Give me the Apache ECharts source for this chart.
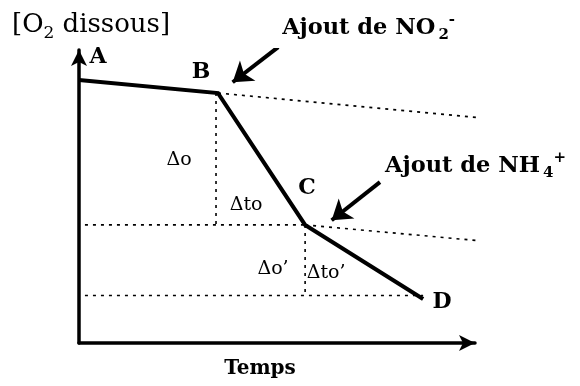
<!DOCTYPE html>
<html>
<head>
<meta charset="utf-8">
<script src="https://cdn.jsdelivr.net/npm/echarts@6/dist/echarts.min.js"></script>
<style>html,body{margin:0;padding:0;background:#fff;}#c{width:580px;height:386px;}</style>
</head>
<body>
<div id="c"></div>
<script>
// Main curve A-B-C-D (time, dissolved O2) in arbitrary units
var pointNames = ['A', 'B', 'C', 'D'];
var timeValues = [0, 35.1, 57.1, 86.9];
var o2Values = [89.8, 85.3, 40.3, 15.0];
// Extrapolated slopes (dashed)
var extB = [[35.1, 85.3], [101.8, 76.8]];
var extC = [[57.1, 40.3], [107.6, 34.1]];
// Reference guides
var hLineC = [[1.5, 40.3], [57.1, 40.3]];
var hLineD = [[1.5, 16.2], [86.9, 16.2]];
var vLineB = [[34.6, 85.3], [34.6, 40.3]];
var vLineC = [[57.1, 40.3], [57.1, 16.2]];
// Callout arrows
var arrowNO2 = [[50.3, 101.0], [38.8, 89.0]];
var arrowNH4 = [[76.0, 54.9], [63.8, 41.9]];
// Text labels
var labelTexts = ['A', 'B', 'C', 'D', '\u0394o', '\u0394to', '\u0394o\u2019', '\u0394to\u2019'];
var labelPos = [[4.8, 97.6], [30.8, 92.5], [57.6, 52.9], [91.7, 14.0], [25.3, 62.5], [42.2, 47.1], [49.0, 25.3], [62.4, 23.9]];
var noteNO2Pos = [51.3, 107.5];
var noteNH4Pos = [77.3, 60.4];

var FF = 'DejaVu Serif';
var chart = echarts.init(document.getElementById('c'), null, {renderer: 'canvas'});

function pts(a, b) { return a.map(function (v, i) { return [v, b[i]]; }); }

var dashStyle = {color: '#000', width: 1.6, type: [3, 5]};
function dashSeries(d) {
  return {type: 'line', data: d, symbol: 'none', clip: false, silent: true, lineStyle: dashStyle, z: 2};
}

var labelData = labelTexts.map(function (t, i) {
  var isPoint = i < 4;
  return {
    value: labelPos[i],
    label: {
      show: true, position: 'inside', formatter: t, color: '#000', opacity: 1,
      fontFamily: FF, fontSize: isPoint ? 22 : 19, fontWeight: isPoint ? 'bold' : 'normal'
    }
  };
});

function note(pos, main, sub, sup) {
  return {
    value: pos,
    label: {
      show: true, position: 'inside', align: 'left', verticalAlign: 'middle', opacity: 1,
      formatter: main + '{s|' + sub + '}{p|' + sup + '}',
      fontFamily: FF, fontSize: 22.5, fontWeight: 'bold', color: '#000', lineHeight: 30,
      rich: {
        s: {fontFamily: FF, fontSize: 15, fontWeight: 'bold', color: '#000', verticalAlign: 'bottom', lineHeight: 30, padding: [0, 0, 0, 3]},
        p: {fontFamily: FF, fontSize: 15, fontWeight: 'bold', color: '#000', verticalAlign: 'top', lineHeight: 30}
      }
    }
  };
}
labelData.push(note(noteNO2Pos, 'Ajout de NO', '2', '-'));
labelData.push(note(noteNH4Pos, 'Ajout de NH', '4', '+'));

chart.setOption({
  animation: false,
  backgroundColor: '#fff',
  title: {
    text: '[O{s|2} dissous]', left: 7, top: 3,
    textStyle: {
      fontFamily: FF, fontSize: 26, fontWeight: 'normal', color: '#000', lineHeight: 34,
      rich: {s: {fontFamily: FF, fontSize: 17, color: '#000', verticalAlign: 'bottom', lineHeight: 34}}
    }
  },
  grid: {left: 79, right: 105, top: 50, bottom: 43},
  xAxis: {
    type: 'value', min: 0, max: 100,
    name: 'Temps', nameLocation: 'middle', nameGap: 16,
    nameTextStyle: {fontFamily: FF, fontSize: 20, fontWeight: 'bold', color: '#000', verticalAlign: 'top', padding: [0, 34, 0, 0]},
    axisLine: {show: true, symbol: ['none', 'arrow'], symbolSize: [12, 16], lineStyle: {color: '#000', width: 3.5}},
    axisTick: {show: false}, axisLabel: {show: false}, splitLine: {show: false}
  },
  yAxis: {
    type: 'value', min: 0, max: 100,
    axisLine: {show: true, symbol: ['none', 'arrow'], symbolSize: [12, 16], lineStyle: {color: '#000', width: 3.5}},
    axisTick: {show: false}, axisLabel: {show: false}, splitLine: {show: false}
  },
  series: [
    dashSeries(extB), dashSeries(extC), dashSeries(hLineC), dashSeries(hLineD), dashSeries(vLineB), dashSeries(vLineC),
    {type: 'line', data: pts(timeValues, o2Values), symbol: 'none', clip: false, lineStyle: {color: '#000', width: 4, join: 'miter'}, z: 5},
    {
      type: 'lines', coordinateSystem: 'cartesian2d', symbol: ['none', 'arrow'], symbolSize: 19,
      lineStyle: {color: '#000', width: 4, opacity: 1, curveness: 0},
      data: [{coords: arrowNO2}, {coords: arrowNH4}], z: 6
    },
    {type: 'scatter', symbolSize: 1, clip: false, itemStyle: {color: 'rgba(0,0,0,0)', opacity: 1}, emphasis: {disabled: true}, data: labelData, z: 7, silent: true}
  ]
});
</script>
</body>
</html>
